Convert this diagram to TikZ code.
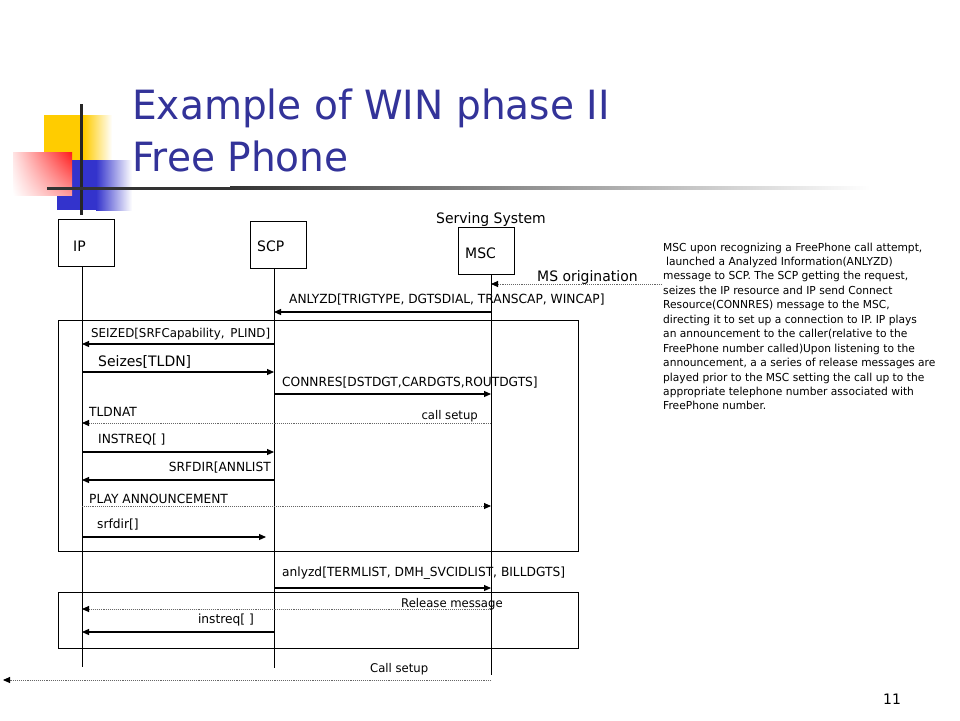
\documentclass[tikz,border=0pt]{standalone}
\usepackage{fontspec}
\setmainfont{DejaVu Sans}[FakeStretch=0.97]
\usetikzlibrary{arrows.meta,shadings}
\definecolor{titleblue}{HTML}{333399}
\definecolor{decoyellow}{HTML}{FFCC00}
\definecolor{decoblue}{HTML}{3333CC}
\definecolor{decored}{HTML}{FF1A1A}
\definecolor{dotgray}{HTML}{666666}
\newcommand\msgfont{\fontsize{12.6}{14}\selectfont}
\newcommand\entfont{\fontsize{14.4}{16}\selectfont}
\newcommand\parfont{\fontsize{11}{13}\selectfont}
\newcommand\ttlfont{\fontsize{40.3}{48}\selectfont}
\tikzset{
  lbl/.style={inner sep=0pt, anchor=base west, font=\msgfont},
  lblr/.style={inner sep=0pt, anchor=base east, font=\msgfont},
  biglbl/.style={inner sep=0pt, anchor=base west, font=\entfont},
  entbox/.style={draw, line width=0.9pt, inner sep=0pt, minimum width=56pt, minimum height=47pt},
  lifeline/.style={line width=1pt},
  msg/.style={line width=1.1pt, -{Triangle[length=7pt,width=6pt]}},
  dmsg/.style={draw=dotgray, line width=0.9pt, densely dotted, -{Triangle[length=7pt,width=6pt,color=black]}},
  grpframe/.style={draw, line width=1pt, inner sep=0pt}
}
\begin{document}
\begin{tikzpicture}[x=1pt,y=-1pt]
\useasboundingbox[fill=white] (0,0) rectangle (960,720);

% decoration
\fill[decoyellow] (44,115) rectangle (84,160);
\shade[left color=decoyellow, right color=white] (84,115) rectangle (112,160);
\fill[decoblue] (57,160) rectangle (96,210);
\shade[left color=decoblue, right color=white] (96,160) rectangle (132,210);
\shade[upper right=decored, lower right=decored!45!white, upper left=decored!12!white, lower left=white] (13,152) rectangle (72,195);
\draw[line width=3pt, black!85] (81,104) -- (81,215);
\fill[black!80] (47,186.5) rectangle (230,189.5);
\shade[left color=black!80, right color=white] (230,186.5) rectangle (870,189.5);

% title
\node[inner sep=0pt, anchor=base west, font=\ttlfont, text=titleblue] (t1) at (132,119) {Example of WIN phase II};
\node[inner sep=0pt, anchor=base west, font=\ttlfont, text=titleblue] (t2) at (132,171) {Free Phone};

% entities
\node[entbox] (ipbox) at (86,243) {};
\node[entbox] (scpbox) at (278,244.5) {};
\node[entbox] (mscbox) at (486,250.5) {};
\node[biglbl] (ipl) at (73,251) {IP};
\node[biglbl] (scpl) at (257,251) {SCP};
\node[biglbl] (mscl) at (465,258) {MSC};
\node[biglbl] (ss) at (436,223) {Serving System};

% frames
\draw[grpframe] (58,320) rectangle (578,551);
\draw[grpframe] (58,592) rectangle (578,648);

% lifelines
\coordinate (ipT) at (82,267);  \coordinate (ipB) at (82,667);
\coordinate (scpT) at (274,268); \coordinate (scpB) at (274,668);
\coordinate (mscT) at (491,274); \coordinate (mscB) at (491,675);
\draw[lifeline] (ipT) -- (ipB);
\draw[lifeline] (scpT) -- (scpB);
\draw[lifeline] (mscT) -- (mscB);

% MS origination
\coordinate (msorig) at (662,284);
\draw[dmsg] (msorig) -- (mscT |- msorig);
\node[biglbl] (msol) at (537,281) {MS origination};

% messages
\draw[msg] (mscT |- 0,312) -- (scpT |- 0,312);
\node[lbl] (m1) at (289,303) {ANLYZD[TRIGTYPE, DGTSDIAL, TRANSCAP, WINCAP]};

\draw[msg] (scpT |- 0,344) -- (ipT |- 0,344);
\node[lbl, font=\fontsize{12.2}{14}\selectfont] (m2) at (91,337) {SEIZED[SRFCapability,\, PLIND]};

\draw[msg] (ipT |- 0,372) -- (scpT |- 0,372);
\node[biglbl] (m3) at (98,366) {Seizes[TLDN]};

\draw[msg] (scpT |- 0,394) -- (mscT |- 0,394);
\node[lbl] (m4) at (282,386) {CONNRES[DSTDGT,CARDGTS,ROUTDGTS]};

\draw[dmsg] (mscT |- 0,423) -- (ipT |- 0,423);
\node[lbl] (m5) at (89,416) {TLDNAT};
\node[lblr, font=\fontsize{12}{14}\selectfont] (m5b) at (478,419) {call setup};

\draw[msg] (ipT |- 0,452) -- (scpT |- 0,452);
\node[lbl] (m6) at (98,443) {INSTREQ[ ]};

\draw[msg] (scpT |- 0,480) -- (ipT |- 0,480);
\node[lblr] (m7) at (271,471) {SRFDIR[ANNLIST};

\draw[dmsg] (ipT |- 0,506) -- (mscT |- 0,506);
\node[lbl] (m8) at (89,503) {PLAY ANNOUNCEMENT};

\coordinate (srfend) at (266,537);
\draw[msg] (ipT |- srfend) -- (srfend);
\node[lbl] (m9) at (97,528) {srfdir[]};

\draw[msg] (scpT |- 0,588) -- (mscT |- 0,588);
\node[lbl] (m10) at (282,576) {anlyzd[TERMLIST, DMH\_SVCIDLIST, BILLDGTS]};

\draw[dmsg] (mscT |- 0,609) -- (ipT |- 0,609);
\node[lbl, font=\fontsize{12}{14}\selectfont] (m11) at (401,607) {Release message};

\draw[msg] (scpT |- 0,632) -- (ipT |- 0,632);
\node[lblr] (m12) at (254,623) {instreq[ ]};

\coordinate (callend) at (3,680);
\draw[dmsg] (mscT |- callend) -- (callend);
\node[lbl, font=\fontsize{12}{14}\selectfont] (m13) at (370,672) {Call setup};

% paragraph
\foreach \ln [count=\i] in {
  {MSC upon recognizing a FreePhone call attempt,},
  {\hspace{3pt}launched a Analyzed Information(ANLYZD)},
  {message to SCP. The SCP getting the request,},
  {seizes the IP resource and IP send Connect},
  {Resource(CONNRES) message to the MSC,},
  {directing it to set up a connection to IP. IP plays},
  {an announcement to the caller(relative to the},
  {FreePhone number called)Upon listening to the},
  {announcement, a a series of release messages are},
  {played prior to the MSC setting the call up to the},
  {appropriate telephone number associated with},
  {FreePhone number.}
}{
  \node[inner sep=0pt, anchor=base west, font=\parfont] (p\i) at (663,{251+(\i-1)*14.45}) {\ln};
}

% page number
\node[inner sep=0pt, anchor=base west, font=\entfont] (pg) at (883,704) {11};
\end{tikzpicture}
\end{document}
